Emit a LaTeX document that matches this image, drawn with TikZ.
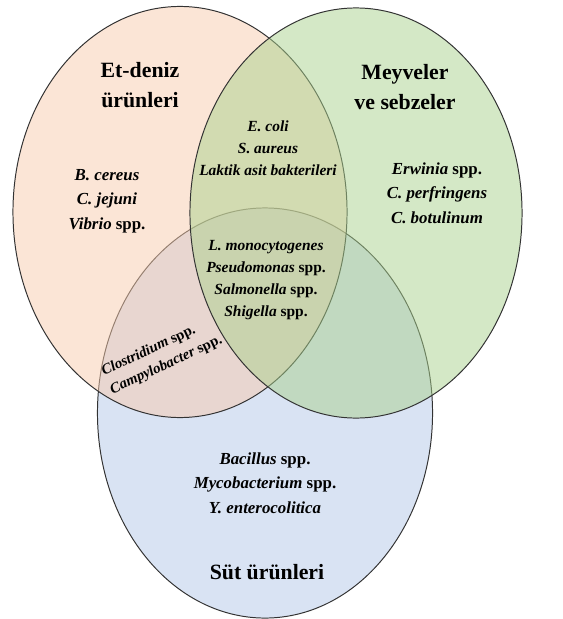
\documentclass[tikz,border=0pt]{standalone}
\usepackage{fontspec}
\setmainfont{Liberation Serif}
\usetikzlibrary{shapes.geometric}

\definecolor{etrenk}{HTML}{F8CBAD}
\definecolor{meyverenk}{HTML}{A9D18E}
\definecolor{sutrenk}{HTML}{B4C7E7}

\begin{document}
\begin{tikzpicture}[x=0.025cm,y=-0.025cm]
        \useasboundingbox (0,0) rectangle (562,619);

        \begin{scope}[every node/.style={ellipse,draw=black!80,line width=0.7pt,fill opacity=0.5,inner sep=0pt,outer sep=0pt}]
            \node[fill=sutrenk,minimum width=8.375cm,minimum height=10.25cm] (sut) at (265,413) {};
            \node[fill=etrenk,minimum width=8.35cm,minimum height=10.275cm] (et) at (180,212) {};
            \node[fill=meyverenk,minimum width=8.3cm,minimum height=10.25cm] (meyve) at (356,213) {};
        \end{scope}

        \begin{scope}[every node/.style={align=center,font=\bfseries\fontsize{15.5}{21}\selectfont}]
            \node (etbaslik) at (140,85) {Et-deniz\\ürünleri};
            \node (meyvebaslik) at (405,87) {Meyveler\\ve sebzeler};
            \node (sutbaslik) at (267,572) {Süt ürünleri};
        \end{scope}

        \begin{scope}[every node/.style={align=center,font=\bfseries\fontsize{12}{17.4}\selectfont}]
            \node (etliste) at (107,201) {\textit{B. cereus}\\\textit{C. jejuni}\\\textit{Vibrio} spp.};
            \node (meyveliste) at (437,193) {\textit{Erwinia} spp.\\\textit{C. perfringens}\\\textit{C. botulinum}};
            \node (sutliste) at (265,483) {\textit{Bacillus} spp.\\\textit{Mycobacterium} spp.\\\textit{Y. enterocolitica}};
            \node[font=\bfseries\fontsize{11}{15.6}\selectfont] (etmeyve) at (268,148) {\textit{E. coli}\\\textit{S. aureus}\\\textit{Laktik asit bakterileri}};
            \node[font=\bfseries\fontsize{11}{15.6}\selectfont] (ortak) at (266,280) {\textit{L. monocytogenes}\\\textit{Pseudomonas} spp.\\\textit{Salmonella} spp.\\\textit{Shigella} spp.};
            \node[align=left,rotate=25,inner sep=0pt,font=\bfseries\fontsize{10.5}{14.5}\selectfont] (etsut) at (162,356) {\textit{Clostridium} spp.\\\textit{Campylobacter} spp.};
        \end{scope}
    \end{tikzpicture}
\end{document}
